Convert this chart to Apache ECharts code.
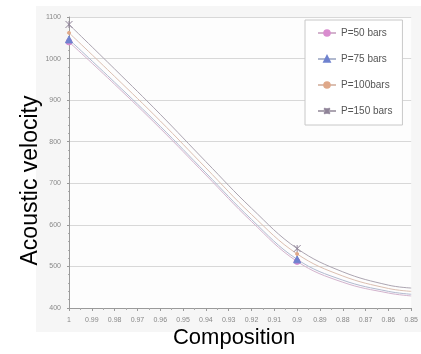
<!DOCTYPE html>
<html>
<head>
<meta charset="utf-8">
<script src="https://cdn.jsdelivr.net/npm/echarts@6/dist/echarts.min.js"></script>
<style>
  html, body { margin: 0; padding: 0; background: #ffffff; }
  #chart { width: 421px; height: 354px; }
</style>
</head>
<body>
<div id="chart"></div>
<script>
// Composition values along the curves (x axis runs from 1 down to 0.85)
const composition = [1, 0.98, 0.96, 0.94, 0.92, 0.9, 0.88, 0.86, 0.85];
// Compositions that carry a marker
const markedComposition = [1, 0.9];

// Acoustic velocity for each pressure
const p50  = [1040, 938, 832, 720, 608, 512, 462, 436, 429];
const p75  = [1046, 943, 837, 725, 613, 517, 467, 440, 433];
const p100 = [1062, 957, 850, 737, 625, 530, 477, 447, 440];
const p150 = [1082, 975, 866, 752, 640, 543, 487, 455, 448];

const seriesNames = ['P=50 bars', 'P=75 bars', 'P=100bars', 'P=150 bars'];
const yTicks = { min: 400, max: 1100, step: 100 };
const xTicks = { min: 0.85, max: 1, step: 0.01 };

const asterisk = 'path://M0,0L10,10M10,0L0,10M5,0L5,10';

function build(values) {
  return composition.map((c, i) => {
    const item = { value: [c, values[i]] };
    if (markedComposition.indexOf(c) < 0) item.symbol = 'none';
    return item;
  });
}

const styles = [
  { color: '#d98ccf', symbol: 'circle', symbolSize: 6, line: '#d3b3cd' },
  { color: '#6f82cf', symbol: 'triangle', symbolSize: 7, line: '#b1b9cf' },
  { color: '#dfa889', symbol: 'circle', symbolSize: 3, line: '#dbbfb1' },
  { color: '#8f8398', symbol: asterisk, symbolSize: 7, line: '#aca5b1' }
];
const seriesValues = [p50, p75, p100, p150];

const chart = echarts.init(document.getElementById('chart'), null, { renderer: 'canvas' });

chart.setOption({
  backgroundColor: '#ffffff',
  animation: false,
  graphic: [{
    type: 'rect',
    shape: { x: 36, y: 6, width: 385, height: 326 },
    style: { fill: '#f6f6f6' },
    z: -10
  }],
  grid: { left: 69, right: 5, top: 17, bottom: 41, backgroundColor: '#fdfdfd', show: true, borderWidth: 0 },
  legend: {
    orient: 'vertical',
    left: 305,
    top: 20,
    width: 103,
    padding: [8, 10, 9, 12],
    itemGap: 16,
    itemWidth: 18,
    itemHeight: 7,
    backgroundColor: '#ffffff',
    borderColor: '#c8c8c8',
    borderWidth: 1,
    textStyle: { fontFamily: 'Liberation Sans, Arial', fontSize: 10, color: '#555555' },
    data: seriesNames
  },
  xAxis: {
    type: 'value',
    inverse: true,
    min: xTicks.min,
    max: xTicks.max,
    interval: xTicks.step,
    name: 'Composition',
    nameLocation: 'middle',
    nameGap: 19,
    nameMoveOverlap: false,
    nameTextStyle: { fontFamily: 'Liberation Sans, Arial', fontSize: 22, color: '#000000', padding: [0, 12, 0, 0] },
    axisLine: { lineStyle: { color: '#9a9a9a', width: 1 } },
    axisTick: { show: true, inside: false, length: 3, lineStyle: { color: '#9a9a9a' } },
    minorTick: { show: true, splitNumber: 2, length: 2, lineStyle: { color: '#aaaaaa' } },
    axisLabel: {
      fontFamily: 'Liberation Sans, Arial',
      fontSize: 7,
      color: '#888888',
      margin: 9,
      formatter: v => String(+v.toFixed(2))
    },
    splitLine: { show: false }
  },
  yAxis: {
    type: 'value',
    min: yTicks.min,
    max: yTicks.max,
    interval: yTicks.step,
    name: 'Acoustic velocity',
    nameLocation: 'middle',
    nameGap: 27,
    nameMoveOverlap: false,
    nameTextStyle: { fontFamily: 'Liberation Sans, Arial', fontSize: 23, color: '#000000', padding: [0, 36, 0, 0] },
    axisLine: { show: true, lineStyle: { color: '#9a9a9a', width: 1 } },
    axisTick: { show: true, length: 2, lineStyle: { color: '#9a9a9a' } },
    minorTick: { show: true, splitNumber: 5, length: 1, lineStyle: { color: '#b0b0b0' } },
    axisLabel: {
      fontFamily: 'Liberation Sans, Arial',
      fontSize: 7,
      color: '#888888',
      margin: 8,
      formatter: v => String(v)
    },
    splitLine: { lineStyle: { color: '#d8d8d8', width: 1 } }
  },
  series: seriesNames.map((name, i) => ({
    name: name,
    type: 'line',
    smooth: 0.4,
    symbol: styles[i].symbol,
    symbolSize: styles[i].symbolSize,
    showAllSymbol: true,
    itemStyle: { color: styles[i].color, borderColor: styles[i].color, borderWidth: 1 },
    lineStyle: { color: styles[i].line, width: 1 },
    data: build(seriesValues[i])
  }))
});
</script>
</body>
</html>
